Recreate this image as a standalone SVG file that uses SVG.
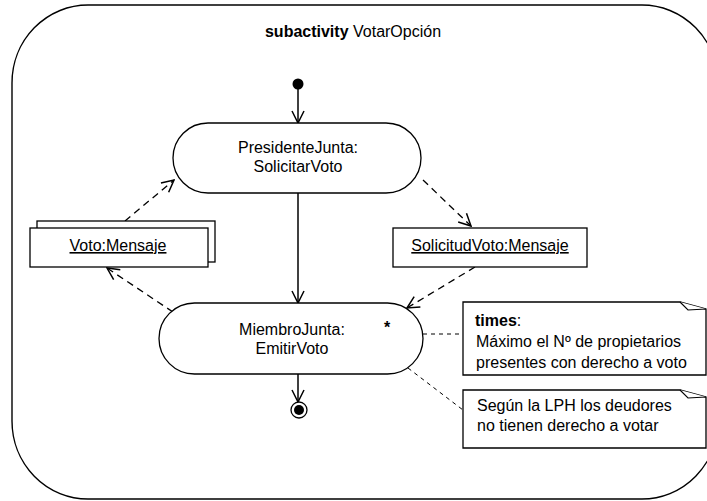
<svg xmlns="http://www.w3.org/2000/svg" width="707" height="501" viewBox="0 0 707 501">
  <style>
    text { font-family: "Liberation Sans", Arial, sans-serif; font-size: 16px; fill: #000; }
    .c { text-anchor: middle; }
    .shape { fill: #fff; stroke: #000; stroke-width: 1.3; }
    .flow { fill: none; stroke: #000; stroke-width: 1.5; }
    .dep { fill: none; stroke: #000; stroke-width: 1.3; stroke-dasharray: 7 5; }
    .anchor { fill: none; stroke: #000; stroke-width: 1; stroke-dasharray: 4 4; }
    .u { text-decoration: underline; }
  </style>
  <defs>
    <marker id="open" viewBox="0 0 14 14" refX="13" refY="7" markerWidth="14" markerHeight="14" markerUnits="userSpaceOnUse" orient="auto">
      <path d="M1,1 L13,7 L1,13" fill="none" stroke="#000" stroke-width="1.5"/>
    </marker>
  </defs>

  <!-- subactivity frame -->
  <g id="frame">
    <rect x="12" y="5" width="706" height="494" rx="76" ry="78" fill="#fff" stroke="#000" stroke-width="1.4"/>
    <text x="353" y="37" class="c"><tspan font-weight="bold">subactivity</tspan> VotarOpción</text>
  </g>

  <!-- connectors -->
  <g id="connectors">
    <line class="flow" x1="298" y1="89" x2="298" y2="123" marker-end="url(#open)"/>
    <line class="flow" x1="298" y1="193" x2="298" y2="303" marker-end="url(#open)"/>
    <line class="flow" x1="298" y1="374" x2="298" y2="402" stroke-width="2.2" marker-end="url(#open)"/>
    <line class="dep" x1="125" y1="221" x2="174" y2="180" marker-end="url(#open)"/>
    <line class="dep" x1="173" y1="312" x2="107" y2="268" marker-end="url(#open)"/>
    <line class="dep" x1="423" y1="180" x2="471" y2="226" marker-end="url(#open)"/>
    <line class="dep" x1="475" y1="267" x2="407" y2="308" marker-end="url(#open)"/>
    <line class="anchor" x1="423" y1="334" x2="463" y2="334"/>
    <line class="anchor" x1="408" y1="368" x2="463" y2="410"/>
  </g>

  <g id="initial">
    <circle cx="298" cy="84" r="5.5" fill="#000"/>
  </g>

  <g id="presidente">
    <rect class="shape" x="173" y="123" width="248" height="70" rx="35" ry="35"/>
    <text x="298" y="152.5" class="c">PresidenteJunta:</text>
    <text x="298" y="172" class="c">SolicitarVoto</text>
  </g>

  <g id="voto">
    <rect class="shape" x="37" y="221" width="178" height="41"/>
    <rect class="shape" x="30" y="228" width="178" height="39"/>
    <text x="118" y="251" class="c u">Voto:Mensaje</text>
  </g>

  <g id="solicitud">
    <rect class="shape" x="393" y="228" width="194" height="39"/>
    <text x="490" y="251" class="c u">SolicitudVoto:Mensaje</text>
  </g>

  <g id="miembro">
    <rect class="shape" x="159" y="303" width="264" height="71" rx="35.5" ry="35.5"/>
    <text x="292" y="335" class="c">MiembroJunta:</text>
    <text x="292" y="354" class="c">EmitirVoto</text>
    <text x="387" y="333" class="c" font-size="19" font-weight="bold">*</text>
  </g>

  <g id="final">
    <circle cx="299" cy="410" r="8" fill="#fff" stroke="#000" stroke-width="1.3"/>
    <circle cx="299" cy="410" r="5" fill="#000"/>
  </g>

  <g id="note-times">
    <path class="shape" d="M463,302 H680 L706,309 V375 H463 Z"/>
    <path d="M680,302 L688,310 L706,309" fill="#fff" stroke="#000" stroke-width="1.1"/>
    <text x="475" y="326"><tspan font-weight="bold">times</tspan>:</text>
    <text x="476" y="347">Máximo el Nº de propietarios</text>
    <text x="476" y="368">presentes con derecho a voto</text>
  </g>

  <g id="note-lph">
    <path class="shape" d="M463,390 H680 L706,397 V448 H463 Z"/>
    <path d="M680,390 L688,398 L706,397" fill="#fff" stroke="#000" stroke-width="1.1"/>
    <text x="477" y="411">Según la LPH los deudores</text>
    <text x="477" y="431">no tienen derecho a votar</text>
  </g>
</svg>
